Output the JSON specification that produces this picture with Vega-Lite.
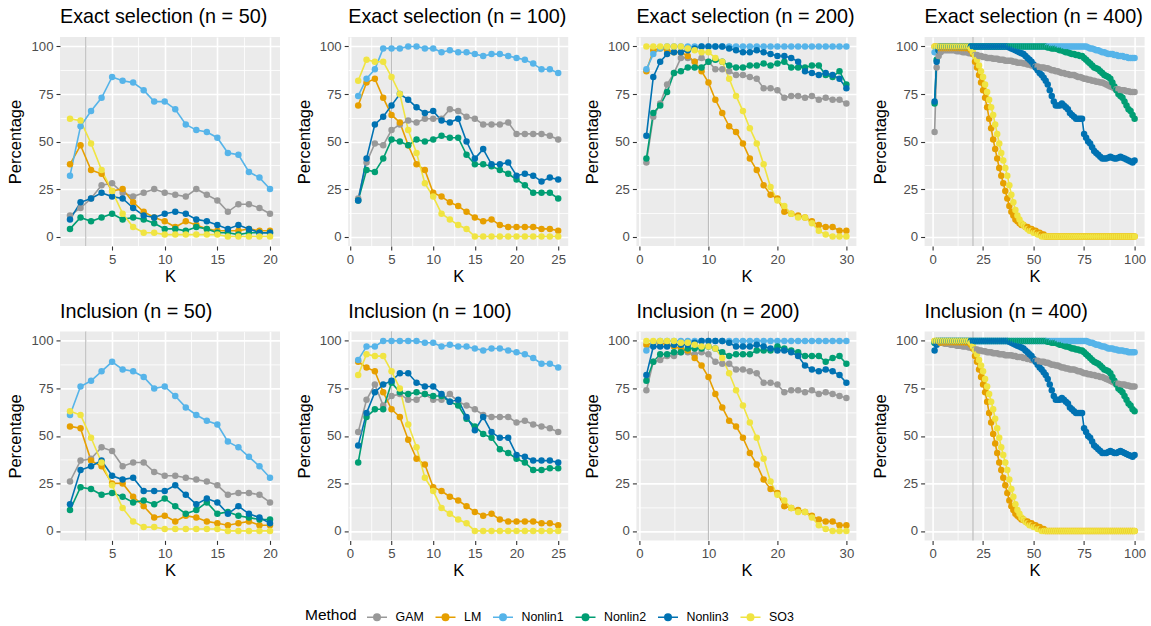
{
"$schema": "https://vega.github.io/schema/vega-lite/v6.json",
"background": "white",
"padding": {"left": 7, "top": 7, "right": 0, "bottom": 0},
"bounds": "flush",
"columns": 4,
"spacing": {"row": 85.4, "column": 68.2},
"resolve": {"scale": {"x": "independent", "y": "independent", "color": "shared"}},
"datasets": {
"d": [
{"p":"E50","K":1,"GAM":11,"LM":38,"Nonlin1":32,"Nonlin2":4,"Nonlin3":9,"SO3":62},
{"p":"E50","K":2,"GAM":15,"LM":48,"Nonlin1":58,"Nonlin2":10,"Nonlin3":18,"SO3":61},
{"p":"E50","K":3,"GAM":20,"LM":35,"Nonlin1":66,"Nonlin2":8,"Nonlin3":20,"SO3":49},
{"p":"E50","K":4,"GAM":27,"LM":33,"Nonlin1":73,"Nonlin2":10,"Nonlin3":23,"SO3":35},
{"p":"E50","K":5,"GAM":28,"LM":24,"Nonlin1":84,"Nonlin2":12,"Nonlin3":21,"SO3":24},
{"p":"E50","K":6,"GAM":23,"LM":25,"Nonlin1":82,"Nonlin2":9,"Nonlin3":20,"SO3":12},
{"p":"E50","K":7,"GAM":21,"LM":18,"Nonlin1":81,"Nonlin2":10,"Nonlin3":15,"SO3":5},
{"p":"E50","K":8,"GAM":23,"LM":13,"Nonlin1":77,"Nonlin2":9,"Nonlin3":11,"SO3":2},
{"p":"E50","K":9,"GAM":25,"LM":10,"Nonlin1":71,"Nonlin2":7,"Nonlin3":10,"SO3":2},
{"p":"E50","K":10,"GAM":23,"LM":8,"Nonlin1":71,"Nonlin2":4,"Nonlin3":12,"SO3":1},
{"p":"E50","K":11,"GAM":22,"LM":5,"Nonlin1":67,"Nonlin2":4,"Nonlin3":13,"SO3":1},
{"p":"E50","K":12,"GAM":21,"LM":8,"Nonlin1":59,"Nonlin2":3,"Nonlin3":12,"SO3":1},
{"p":"E50","K":13,"GAM":25,"LM":6,"Nonlin1":56,"Nonlin2":5,"Nonlin3":9,"SO3":1},
{"p":"E50","K":14,"GAM":22,"LM":4,"Nonlin1":55,"Nonlin2":4,"Nonlin3":8,"SO3":1},
{"p":"E50","K":15,"GAM":19,"LM":3,"Nonlin1":52,"Nonlin2":2,"Nonlin3":6,"SO3":1},
{"p":"E50","K":16,"GAM":13,"LM":3,"Nonlin1":44,"Nonlin2":2,"Nonlin3":4,"SO3":0},
{"p":"E50","K":17,"GAM":17,"LM":3,"Nonlin1":43,"Nonlin2":1,"Nonlin3":6,"SO3":0},
{"p":"E50","K":18,"GAM":17,"LM":4,"Nonlin1":34,"Nonlin2":2,"Nonlin3":4,"SO3":0},
{"p":"E50","K":19,"GAM":15,"LM":3,"Nonlin1":31,"Nonlin2":2,"Nonlin3":2,"SO3":0},
{"p":"E50","K":20,"GAM":12,"LM":3,"Nonlin1":25,"Nonlin2":2,"Nonlin3":2,"SO3":0},
{"p":"E100","K":1,"GAM":20,"LM":69,"Nonlin1":74,"Nonlin2":19,"Nonlin3":19,"SO3":82},
{"p":"E100","K":2,"GAM":39,"LM":81,"Nonlin1":83,"Nonlin2":35,"Nonlin3":41,"SO3":93},
{"p":"E100","K":3,"GAM":49,"LM":83,"Nonlin1":88,"Nonlin2":34,"Nonlin3":59,"SO3":92},
{"p":"E100","K":4,"GAM":48,"LM":73,"Nonlin1":99,"Nonlin2":41,"Nonlin3":63,"SO3":92},
{"p":"E100","K":5,"GAM":56,"LM":64,"Nonlin1":99,"Nonlin2":51,"Nonlin3":69,"SO3":84},
{"p":"E100","K":6,"GAM":59,"LM":60,"Nonlin1":99,"Nonlin2":50,"Nonlin3":75,"SO3":75},
{"p":"E100","K":7,"GAM":61,"LM":48,"Nonlin1":100,"Nonlin2":48,"Nonlin3":72,"SO3":56},
{"p":"E100","K":8,"GAM":60,"LM":38,"Nonlin1":100,"Nonlin2":51,"Nonlin3":68,"SO3":44},
{"p":"E100","K":9,"GAM":62,"LM":35,"Nonlin1":99,"Nonlin2":50,"Nonlin3":65,"SO3":28},
{"p":"E100","K":10,"GAM":62,"LM":23,"Nonlin1":99,"Nonlin2":51,"Nonlin3":66,"SO3":21},
{"p":"E100","K":11,"GAM":62,"LM":21,"Nonlin1":97,"Nonlin2":53,"Nonlin3":61,"SO3":12},
{"p":"E100","K":12,"GAM":67,"LM":18,"Nonlin1":98,"Nonlin2":52,"Nonlin3":60,"SO3":9},
{"p":"E100","K":13,"GAM":66,"LM":16,"Nonlin1":97,"Nonlin2":52,"Nonlin3":62,"SO3":6},
{"p":"E100","K":14,"GAM":63,"LM":13,"Nonlin1":97,"Nonlin2":43,"Nonlin3":50,"SO3":4},
{"p":"E100","K":15,"GAM":62,"LM":10,"Nonlin1":96,"Nonlin2":38,"Nonlin3":41,"SO3":0},
{"p":"E100","K":16,"GAM":59,"LM":8,"Nonlin1":95,"Nonlin2":38,"Nonlin3":46,"SO3":0},
{"p":"E100","K":17,"GAM":59,"LM":9,"Nonlin1":96,"Nonlin2":37,"Nonlin3":38,"SO3":0},
{"p":"E100","K":18,"GAM":59,"LM":6,"Nonlin1":96,"Nonlin2":35,"Nonlin3":38,"SO3":0},
{"p":"E100","K":19,"GAM":60,"LM":5,"Nonlin1":95,"Nonlin2":33,"Nonlin3":39,"SO3":0},
{"p":"E100","K":20,"GAM":54,"LM":5,"Nonlin1":94,"Nonlin2":30,"Nonlin3":32,"SO3":0},
{"p":"E100","K":21,"GAM":54,"LM":5,"Nonlin1":93,"Nonlin2":27,"Nonlin3":33,"SO3":0},
{"p":"E100","K":22,"GAM":54,"LM":5,"Nonlin1":91,"Nonlin2":23,"Nonlin3":32,"SO3":0},
{"p":"E100","K":23,"GAM":54,"LM":4,"Nonlin1":88,"Nonlin2":23,"Nonlin3":29,"SO3":0},
{"p":"E100","K":24,"GAM":53,"LM":4,"Nonlin1":88,"Nonlin2":23,"Nonlin3":31,"SO3":0},
{"p":"E100","K":25,"GAM":51,"LM":3,"Nonlin1":86,"Nonlin2":20,"Nonlin3":30,"SO3":0},
{"p":"E200","K":1,"GAM":39,"LM":87,"Nonlin1":88,"Nonlin2":41,"Nonlin3":53,"SO3":100},
{"p":"E200","K":2,"GAM":63,"LM":98,"Nonlin1":96,"Nonlin2":65,"Nonlin3":84,"SO3":100},
{"p":"E200","K":3,"GAM":70,"LM":99,"Nonlin1":99,"Nonlin2":69,"Nonlin3":92,"SO3":100},
{"p":"E200","K":4,"GAM":80,"LM":98,"Nonlin1":100,"Nonlin2":76,"Nonlin3":96,"SO3":100},
{"p":"E200","K":5,"GAM":86,"LM":97,"Nonlin1":100,"Nonlin2":86,"Nonlin3":97,"SO3":100},
{"p":"E200","K":6,"GAM":94,"LM":97,"Nonlin1":100,"Nonlin2":87,"Nonlin3":97,"SO3":100},
{"p":"E200","K":7,"GAM":94,"LM":95,"Nonlin1":100,"Nonlin2":89,"Nonlin3":98,"SO3":99},
{"p":"E200","K":8,"GAM":92,"LM":92,"Nonlin1":100,"Nonlin2":89,"Nonlin3":99,"SO3":98},
{"p":"E200","K":9,"GAM":94,"LM":87,"Nonlin1":100,"Nonlin2":89,"Nonlin3":100,"SO3":97},
{"p":"E200","K":10,"GAM":92,"LM":81,"Nonlin1":100,"Nonlin2":92,"Nonlin3":100,"SO3":97},
{"p":"E200","K":11,"GAM":88,"LM":72,"Nonlin1":100,"Nonlin2":93,"Nonlin3":100,"SO3":94},
{"p":"E200","K":12,"GAM":88,"LM":65,"Nonlin1":100,"Nonlin2":92,"Nonlin3":100,"SO3":92},
{"p":"E200","K":13,"GAM":87,"LM":58,"Nonlin1":100,"Nonlin2":90,"Nonlin3":99,"SO3":83},
{"p":"E200","K":14,"GAM":85,"LM":55,"Nonlin1":100,"Nonlin2":89,"Nonlin3":98,"SO3":74},
{"p":"E200","K":15,"GAM":85,"LM":49,"Nonlin1":100,"Nonlin2":89,"Nonlin3":97,"SO3":66},
{"p":"E200","K":16,"GAM":84,"LM":41,"Nonlin1":100,"Nonlin2":90,"Nonlin3":97,"SO3":57},
{"p":"E200","K":17,"GAM":83,"LM":35,"Nonlin1":100,"Nonlin2":90,"Nonlin3":98,"SO3":49},
{"p":"E200","K":18,"GAM":78,"LM":27,"Nonlin1":100,"Nonlin2":91,"Nonlin3":97,"SO3":38},
{"p":"E200","K":19,"GAM":78,"LM":22,"Nonlin1":100,"Nonlin2":90,"Nonlin3":96,"SO3":26},
{"p":"E200","K":20,"GAM":77,"LM":20,"Nonlin1":100,"Nonlin2":91,"Nonlin3":95,"SO3":19},
{"p":"E200","K":21,"GAM":73,"LM":13,"Nonlin1":100,"Nonlin2":92,"Nonlin3":95,"SO3":16},
{"p":"E200","K":22,"GAM":74,"LM":12,"Nonlin1":100,"Nonlin2":89,"Nonlin3":94,"SO3":12},
{"p":"E200","K":23,"GAM":74,"LM":11,"Nonlin1":100,"Nonlin2":89,"Nonlin3":92,"SO3":10},
{"p":"E200","K":24,"GAM":73,"LM":10,"Nonlin1":100,"Nonlin2":89,"Nonlin3":87,"SO3":10},
{"p":"E200","K":25,"GAM":74,"LM":8,"Nonlin1":100,"Nonlin2":90,"Nonlin3":86,"SO3":7},
{"p":"E200","K":26,"GAM":72,"LM":6,"Nonlin1":100,"Nonlin2":90,"Nonlin3":85,"SO3":3},
{"p":"E200","K":27,"GAM":73,"LM":5,"Nonlin1":100,"Nonlin2":85,"Nonlin3":86,"SO3":1},
{"p":"E200","K":28,"GAM":72,"LM":5,"Nonlin1":100,"Nonlin2":84,"Nonlin3":85,"SO3":0},
{"p":"E200","K":29,"GAM":72,"LM":3,"Nonlin1":100,"Nonlin2":87,"Nonlin3":83,"SO3":0},
{"p":"E200","K":30,"GAM":70,"LM":3,"Nonlin1":100,"Nonlin2":80,"Nonlin3":78,"SO3":0},
{"p":"E400","K":1,"GAM":55,"LM":100,"Nonlin1":97,"Nonlin2":70,"Nonlin3":71,"SO3":100},
{"p":"E400","K":2,"GAM":89,"LM":100,"Nonlin1":99,"Nonlin2":93,"Nonlin3":92,"SO3":100},
{"p":"E400","K":3,"GAM":95,"LM":100,"Nonlin1":100,"Nonlin2":98,"Nonlin3":98,"SO3":100},
{"p":"E400","K":4,"GAM":97,"LM":99,"Nonlin1":100,"Nonlin2":100,"Nonlin3":100,"SO3":100},
{"p":"E400","K":5,"GAM":98,"LM":99,"Nonlin1":100,"Nonlin2":100,"Nonlin3":100,"SO3":100},
{"p":"E400","K":6,"GAM":98,"LM":99,"Nonlin1":100,"Nonlin2":100,"Nonlin3":100,"SO3":100},
{"p":"E400","K":7,"GAM":98,"LM":99,"Nonlin1":100,"Nonlin2":100,"Nonlin3":100,"SO3":100},
{"p":"E400","K":8,"GAM":98,"LM":99,"Nonlin1":100,"Nonlin2":100,"Nonlin3":100,"SO3":100},
{"p":"E400","K":9,"GAM":98,"LM":99,"Nonlin1":100,"Nonlin2":100,"Nonlin3":100,"SO3":100},
{"p":"E400","K":10,"GAM":98,"LM":99,"Nonlin1":100,"Nonlin2":100,"Nonlin3":100,"SO3":100},
{"p":"E400","K":11,"GAM":98,"LM":99,"Nonlin1":100,"Nonlin2":100,"Nonlin3":100,"SO3":100},
{"p":"E400","K":12,"GAM":97.5,"LM":99,"Nonlin1":100,"Nonlin2":100,"Nonlin3":100,"SO3":100},
{"p":"E400","K":13,"GAM":97.5,"LM":99,"Nonlin1":100,"Nonlin2":100,"Nonlin3":100,"SO3":100},
{"p":"E400","K":14,"GAM":97.5,"LM":99,"Nonlin1":100,"Nonlin2":100,"Nonlin3":100,"SO3":100},
{"p":"E400","K":15,"GAM":97,"LM":99,"Nonlin1":100,"Nonlin2":100,"Nonlin3":100,"SO3":100},
{"p":"E400","K":16,"GAM":97,"LM":99,"Nonlin1":100,"Nonlin2":100,"Nonlin3":100,"SO3":100},
{"p":"E400","K":17,"GAM":97,"LM":99,"Nonlin1":100,"Nonlin2":100,"Nonlin3":100,"SO3":100},
{"p":"E400","K":18,"GAM":96.5,"LM":99,"Nonlin1":100,"Nonlin2":100,"Nonlin3":100,"SO3":100},
{"p":"E400","K":19,"GAM":96.5,"LM":98,"Nonlin1":100,"Nonlin2":100,"Nonlin3":100,"SO3":99},
{"p":"E400","K":20,"GAM":96,"LM":96,"Nonlin1":100,"Nonlin2":100,"Nonlin3":100,"SO3":97},
{"p":"E400","K":21,"GAM":95.5,"LM":92,"Nonlin1":100,"Nonlin2":100,"Nonlin3":100,"SO3":95},
{"p":"E400","K":22,"GAM":95.5,"LM":89,"Nonlin1":100,"Nonlin2":100,"Nonlin3":100,"SO3":93},
{"p":"E400","K":23,"GAM":95,"LM":85,"Nonlin1":100,"Nonlin2":100,"Nonlin3":100,"SO3":90},
{"p":"E400","K":24,"GAM":95,"LM":81,"Nonlin1":100,"Nonlin2":100,"Nonlin3":100,"SO3":87},
{"p":"E400","K":25,"GAM":94.5,"LM":77,"Nonlin1":100,"Nonlin2":100,"Nonlin3":100,"SO3":84},
{"p":"E400","K":26,"GAM":94.5,"LM":73,"Nonlin1":100,"Nonlin2":100,"Nonlin3":100,"SO3":80},
{"p":"E400","K":27,"GAM":94,"LM":68,"Nonlin1":100,"Nonlin2":100,"Nonlin3":100,"SO3":76},
{"p":"E400","K":28,"GAM":94,"LM":62,"Nonlin1":100,"Nonlin2":100,"Nonlin3":100,"SO3":72},
{"p":"E400","K":29,"GAM":94,"LM":57,"Nonlin1":100,"Nonlin2":100,"Nonlin3":100,"SO3":68},
{"p":"E400","K":30,"GAM":93.5,"LM":51,"Nonlin1":100,"Nonlin2":100,"Nonlin3":100,"SO3":64},
{"p":"E400","K":31,"GAM":93.5,"LM":46,"Nonlin1":100,"Nonlin2":100,"Nonlin3":100,"SO3":59},
{"p":"E400","K":32,"GAM":93.5,"LM":41,"Nonlin1":100,"Nonlin2":100,"Nonlin3":100,"SO3":54},
{"p":"E400","K":33,"GAM":93,"LM":36,"Nonlin1":100,"Nonlin2":100,"Nonlin3":100,"SO3":49},
{"p":"E400","K":34,"GAM":93,"LM":32,"Nonlin1":100,"Nonlin2":100,"Nonlin3":100,"SO3":44},
{"p":"E400","K":35,"GAM":93,"LM":28,"Nonlin1":100,"Nonlin2":100,"Nonlin3":100,"SO3":40},
{"p":"E400","K":36,"GAM":92.5,"LM":24,"Nonlin1":100,"Nonlin2":100,"Nonlin3":100,"SO3":36},
{"p":"E400","K":37,"GAM":92.5,"LM":20,"Nonlin1":100,"Nonlin2":100,"Nonlin3":100,"SO3":32},
{"p":"E400","K":38,"GAM":92.5,"LM":16,"Nonlin1":100,"Nonlin2":100,"Nonlin3":99.5,"SO3":27},
{"p":"E400","K":39,"GAM":92.5,"LM":13,"Nonlin1":100,"Nonlin2":100,"Nonlin3":99,"SO3":22},
{"p":"E400","K":40,"GAM":92,"LM":11,"Nonlin1":100,"Nonlin2":100,"Nonlin3":98.5,"SO3":18},
{"p":"E400","K":41,"GAM":92,"LM":9,"Nonlin1":100,"Nonlin2":100,"Nonlin3":98,"SO3":14},
{"p":"E400","K":42,"GAM":91.5,"LM":8,"Nonlin1":100,"Nonlin2":100,"Nonlin3":97.5,"SO3":11},
{"p":"E400","K":43,"GAM":91.5,"LM":7,"Nonlin1":100,"Nonlin2":100,"Nonlin3":97,"SO3":9},
{"p":"E400","K":44,"GAM":91.5,"LM":6,"Nonlin1":100,"Nonlin2":100,"Nonlin3":96.5,"SO3":7},
{"p":"E400","K":45,"GAM":91,"LM":6,"Nonlin1":100,"Nonlin2":100,"Nonlin3":96,"SO3":6},
{"p":"E400","K":46,"GAM":91,"LM":5,"Nonlin1":100,"Nonlin2":100,"Nonlin3":95,"SO3":5},
{"p":"E400","K":47,"GAM":90.5,"LM":5,"Nonlin1":100,"Nonlin2":100,"Nonlin3":94,"SO3":4},
{"p":"E400","K":48,"GAM":90.5,"LM":4,"Nonlin1":100,"Nonlin2":100,"Nonlin3":93,"SO3":3},
{"p":"E400","K":49,"GAM":90,"LM":4,"Nonlin1":100,"Nonlin2":100,"Nonlin3":92,"SO3":3},
{"p":"E400","K":50,"GAM":90,"LM":3,"Nonlin1":100,"Nonlin2":100,"Nonlin3":90.5,"SO3":2},
{"p":"E400","K":51,"GAM":89.5,"LM":3,"Nonlin1":100,"Nonlin2":100,"Nonlin3":89,"SO3":2},
{"p":"E400","K":52,"GAM":89.5,"LM":2,"Nonlin1":100,"Nonlin2":100,"Nonlin3":87.5,"SO3":1},
{"p":"E400","K":53,"GAM":89,"LM":2,"Nonlin1":100,"Nonlin2":100,"Nonlin3":86,"SO3":1},
{"p":"E400","K":54,"GAM":89,"LM":1,"Nonlin1":100,"Nonlin2":100,"Nonlin3":85,"SO3":0},
{"p":"E400","K":55,"GAM":89,"LM":1,"Nonlin1":100,"Nonlin2":100,"Nonlin3":83.5,"SO3":0},
{"p":"E400","K":56,"GAM":88.5,"LM":0,"Nonlin1":100,"Nonlin2":100,"Nonlin3":82,"SO3":0},
{"p":"E400","K":57,"GAM":88.5,"LM":0,"Nonlin1":100,"Nonlin2":99.5,"Nonlin3":80,"SO3":0},
{"p":"E400","K":58,"GAM":88,"LM":0,"Nonlin1":100,"Nonlin2":99.5,"Nonlin3":77,"SO3":0},
{"p":"E400","K":59,"GAM":87.5,"LM":0,"Nonlin1":100,"Nonlin2":99,"Nonlin3":74,"SO3":0},
{"p":"E400","K":60,"GAM":87.5,"LM":0,"Nonlin1":100,"Nonlin2":99,"Nonlin3":71,"SO3":0},
{"p":"E400","K":61,"GAM":87,"LM":0,"Nonlin1":100,"Nonlin2":99,"Nonlin3":69,"SO3":0},
{"p":"E400","K":62,"GAM":87,"LM":0,"Nonlin1":100,"Nonlin2":98.5,"Nonlin3":69,"SO3":0},
{"p":"E400","K":63,"GAM":86.5,"LM":0,"Nonlin1":100,"Nonlin2":98,"Nonlin3":69,"SO3":0},
{"p":"E400","K":64,"GAM":86,"LM":0,"Nonlin1":100,"Nonlin2":98,"Nonlin3":70,"SO3":0},
{"p":"E400","K":65,"GAM":86,"LM":0,"Nonlin1":100,"Nonlin2":97.5,"Nonlin3":69,"SO3":0},
{"p":"E400","K":66,"GAM":85.5,"LM":0,"Nonlin1":100,"Nonlin2":97,"Nonlin3":68,"SO3":0},
{"p":"E400","K":67,"GAM":85.5,"LM":0,"Nonlin1":100,"Nonlin2":97,"Nonlin3":67,"SO3":0},
{"p":"E400","K":68,"GAM":85,"LM":0,"Nonlin1":100,"Nonlin2":96.5,"Nonlin3":65,"SO3":0},
{"p":"E400","K":69,"GAM":85,"LM":0,"Nonlin1":100,"Nonlin2":96,"Nonlin3":64,"SO3":0},
{"p":"E400","K":70,"GAM":85,"LM":0,"Nonlin1":100,"Nonlin2":96,"Nonlin3":63,"SO3":0},
{"p":"E400","K":71,"GAM":84.5,"LM":0,"Nonlin1":100,"Nonlin2":95.5,"Nonlin3":62,"SO3":0},
{"p":"E400","K":72,"GAM":84,"LM":0,"Nonlin1":100,"Nonlin2":95.5,"Nonlin3":62,"SO3":0},
{"p":"E400","K":73,"GAM":84,"LM":0,"Nonlin1":100,"Nonlin2":95,"Nonlin3":62,"SO3":0},
{"p":"E400","K":74,"GAM":83.5,"LM":0,"Nonlin1":100,"Nonlin2":95,"Nonlin3":62,"SO3":0},
{"p":"E400","K":75,"GAM":83,"LM":0,"Nonlin1":100,"Nonlin2":94,"Nonlin3":54,"SO3":0},
{"p":"E400","K":76,"GAM":83,"LM":0,"Nonlin1":100,"Nonlin2":93,"Nonlin3":52,"SO3":0},
{"p":"E400","K":77,"GAM":82.5,"LM":0,"Nonlin1":99.5,"Nonlin2":92,"Nonlin3":50,"SO3":0},
{"p":"E400","K":78,"GAM":82.5,"LM":0,"Nonlin1":99,"Nonlin2":91,"Nonlin3":49,"SO3":0},
{"p":"E400","K":79,"GAM":82,"LM":0,"Nonlin1":99,"Nonlin2":90,"Nonlin3":47,"SO3":0},
{"p":"E400","K":80,"GAM":82,"LM":0,"Nonlin1":98.5,"Nonlin2":89,"Nonlin3":45,"SO3":0},
{"p":"E400","K":81,"GAM":81.5,"LM":0,"Nonlin1":98,"Nonlin2":88.5,"Nonlin3":44,"SO3":0},
{"p":"E400","K":82,"GAM":81.5,"LM":0,"Nonlin1":98,"Nonlin2":88,"Nonlin3":43,"SO3":0},
{"p":"E400","K":83,"GAM":81,"LM":0,"Nonlin1":97.5,"Nonlin2":87,"Nonlin3":42,"SO3":0},
{"p":"E400","K":84,"GAM":81,"LM":0,"Nonlin1":97,"Nonlin2":86,"Nonlin3":41,"SO3":0},
{"p":"E400","K":85,"GAM":80.5,"LM":0,"Nonlin1":97,"Nonlin2":85,"Nonlin3":41,"SO3":0},
{"p":"E400","K":86,"GAM":80,"LM":0,"Nonlin1":96.5,"Nonlin2":84.5,"Nonlin3":41,"SO3":0},
{"p":"E400","K":87,"GAM":79.5,"LM":0,"Nonlin1":96,"Nonlin2":84,"Nonlin3":41.5,"SO3":0},
{"p":"E400","K":88,"GAM":79,"LM":0,"Nonlin1":96,"Nonlin2":83,"Nonlin3":42,"SO3":0},
{"p":"E400","K":89,"GAM":78.5,"LM":0,"Nonlin1":96,"Nonlin2":81,"Nonlin3":41.5,"SO3":0},
{"p":"E400","K":90,"GAM":78,"LM":0,"Nonlin1":95.5,"Nonlin2":79,"Nonlin3":41,"SO3":0},
{"p":"E400","K":91,"GAM":77.5,"LM":0,"Nonlin1":95.5,"Nonlin2":77,"Nonlin3":41,"SO3":0},
{"p":"E400","K":92,"GAM":77.5,"LM":0,"Nonlin1":95,"Nonlin2":75,"Nonlin3":41.5,"SO3":0},
{"p":"E400","K":93,"GAM":77,"LM":0,"Nonlin1":95,"Nonlin2":74,"Nonlin3":42,"SO3":0},
{"p":"E400","K":94,"GAM":77,"LM":0,"Nonlin1":95,"Nonlin2":73,"Nonlin3":41.5,"SO3":0},
{"p":"E400","K":95,"GAM":77,"LM":0,"Nonlin1":94.5,"Nonlin2":71,"Nonlin3":41,"SO3":0},
{"p":"E400","K":96,"GAM":76.5,"LM":0,"Nonlin1":94.5,"Nonlin2":69,"Nonlin3":40.5,"SO3":0},
{"p":"E400","K":97,"GAM":76.5,"LM":0,"Nonlin1":94,"Nonlin2":67,"Nonlin3":40,"SO3":0},
{"p":"E400","K":98,"GAM":76,"LM":0,"Nonlin1":94,"Nonlin2":66,"Nonlin3":39.5,"SO3":0},
{"p":"E400","K":99,"GAM":76,"LM":0,"Nonlin1":94,"Nonlin2":64,"Nonlin3":39,"SO3":0},
{"p":"E400","K":100,"GAM":76,"LM":0,"Nonlin1":94,"Nonlin2":62,"Nonlin3":40,"SO3":0},
{"p":"I50","K":1,"GAM":26,"LM":55,"Nonlin1":61,"Nonlin2":11,"Nonlin3":14,"SO3":63},
{"p":"I50","K":2,"GAM":37,"LM":54,"Nonlin1":76,"Nonlin2":23,"Nonlin3":32,"SO3":61},
{"p":"I50","K":3,"GAM":38,"LM":37,"Nonlin1":79,"Nonlin2":22,"Nonlin3":34,"SO3":49},
{"p":"I50","K":4,"GAM":44,"LM":34,"Nonlin1":84,"Nonlin2":19,"Nonlin3":37,"SO3":36},
{"p":"I50","K":5,"GAM":42,"LM":25,"Nonlin1":89,"Nonlin2":20,"Nonlin3":29,"SO3":24},
{"p":"I50","K":6,"GAM":34,"LM":25,"Nonlin1":85,"Nonlin2":18,"Nonlin3":27,"SO3":12},
{"p":"I50","K":7,"GAM":36,"LM":18,"Nonlin1":84,"Nonlin2":15,"Nonlin3":28,"SO3":5},
{"p":"I50","K":8,"GAM":36,"LM":13,"Nonlin1":81,"Nonlin2":16,"Nonlin3":21,"SO3":2},
{"p":"I50","K":9,"GAM":31,"LM":7,"Nonlin1":75,"Nonlin2":14,"Nonlin3":21,"SO3":2},
{"p":"I50","K":10,"GAM":29,"LM":8,"Nonlin1":76,"Nonlin2":17,"Nonlin3":21,"SO3":1},
{"p":"I50","K":11,"GAM":29,"LM":5,"Nonlin1":71,"Nonlin2":13,"Nonlin3":24,"SO3":1},
{"p":"I50","K":12,"GAM":28,"LM":8,"Nonlin1":65,"Nonlin2":9,"Nonlin3":19,"SO3":1},
{"p":"I50","K":13,"GAM":27,"LM":7,"Nonlin1":61,"Nonlin2":11,"Nonlin3":14,"SO3":1},
{"p":"I50","K":14,"GAM":26,"LM":5,"Nonlin1":58,"Nonlin2":15,"Nonlin3":17,"SO3":1},
{"p":"I50","K":15,"GAM":24,"LM":4,"Nonlin1":56,"Nonlin2":9,"Nonlin3":15,"SO3":1},
{"p":"I50","K":16,"GAM":19,"LM":3,"Nonlin1":47,"Nonlin2":10,"Nonlin3":9,"SO3":0},
{"p":"I50","K":17,"GAM":20,"LM":4,"Nonlin1":44,"Nonlin2":8,"Nonlin3":13,"SO3":0},
{"p":"I50","K":18,"GAM":20,"LM":5,"Nonlin1":39,"Nonlin2":7,"Nonlin3":9,"SO3":0},
{"p":"I50","K":19,"GAM":19,"LM":3,"Nonlin1":34,"Nonlin2":6,"Nonlin3":7,"SO3":0},
{"p":"I50","K":20,"GAM":15,"LM":3,"Nonlin1":28,"Nonlin2":6,"Nonlin3":4,"SO3":0},
{"p":"I100","K":1,"GAM":52,"LM":89,"Nonlin1":90,"Nonlin2":36,"Nonlin3":45,"SO3":82},
{"p":"I100","K":2,"GAM":69,"LM":86,"Nonlin1":97,"Nonlin2":60,"Nonlin3":62,"SO3":93},
{"p":"I100","K":3,"GAM":77,"LM":84,"Nonlin1":97,"Nonlin2":64,"Nonlin3":73,"SO3":92},
{"p":"I100","K":4,"GAM":66,"LM":73,"Nonlin1":100,"Nonlin2":64,"Nonlin3":77,"SO3":92},
{"p":"I100","K":5,"GAM":71,"LM":64,"Nonlin1":100,"Nonlin2":78,"Nonlin3":79,"SO3":84},
{"p":"I100","K":6,"GAM":72,"LM":60,"Nonlin1":100,"Nonlin2":73,"Nonlin3":83,"SO3":75},
{"p":"I100","K":7,"GAM":69,"LM":48,"Nonlin1":100,"Nonlin2":72,"Nonlin3":83,"SO3":56},
{"p":"I100","K":8,"GAM":69,"LM":38,"Nonlin1":100,"Nonlin2":73,"Nonlin3":78,"SO3":44},
{"p":"I100","K":9,"GAM":72,"LM":35,"Nonlin1":99,"Nonlin2":72,"Nonlin3":76,"SO3":28},
{"p":"I100","K":10,"GAM":69,"LM":23,"Nonlin1":99,"Nonlin2":71,"Nonlin3":76,"SO3":21},
{"p":"I100","K":11,"GAM":69,"LM":21,"Nonlin1":97,"Nonlin2":71,"Nonlin3":72,"SO3":12},
{"p":"I100","K":12,"GAM":72,"LM":18,"Nonlin1":98,"Nonlin2":68,"Nonlin3":68,"SO3":9},
{"p":"I100","K":13,"GAM":68,"LM":16,"Nonlin1":97,"Nonlin2":66,"Nonlin3":69,"SO3":6},
{"p":"I100","K":14,"GAM":66,"LM":13,"Nonlin1":97,"Nonlin2":59,"Nonlin3":60,"SO3":4},
{"p":"I100","K":15,"GAM":64,"LM":10,"Nonlin1":96,"Nonlin2":55,"Nonlin3":53,"SO3":0},
{"p":"I100","K":16,"GAM":61,"LM":8,"Nonlin1":95,"Nonlin2":51,"Nonlin3":60,"SO3":0},
{"p":"I100","K":17,"GAM":60,"LM":9,"Nonlin1":96,"Nonlin2":49,"Nonlin3":52,"SO3":0},
{"p":"I100","K":18,"GAM":60,"LM":6,"Nonlin1":96,"Nonlin2":43,"Nonlin3":49,"SO3":0},
{"p":"I100","K":19,"GAM":60,"LM":5,"Nonlin1":95,"Nonlin2":41,"Nonlin3":49,"SO3":0},
{"p":"I100","K":20,"GAM":57,"LM":5,"Nonlin1":94,"Nonlin2":38,"Nonlin3":40,"SO3":0},
{"p":"I100","K":21,"GAM":58,"LM":5,"Nonlin1":93,"Nonlin2":36,"Nonlin3":39,"SO3":0},
{"p":"I100","K":22,"GAM":56,"LM":5,"Nonlin1":91,"Nonlin2":32,"Nonlin3":37,"SO3":0},
{"p":"I100","K":23,"GAM":55,"LM":4,"Nonlin1":88,"Nonlin2":32,"Nonlin3":37,"SO3":0},
{"p":"I100","K":24,"GAM":54,"LM":4,"Nonlin1":88,"Nonlin2":33,"Nonlin3":37,"SO3":0},
{"p":"I100","K":25,"GAM":52,"LM":3,"Nonlin1":86,"Nonlin2":33,"Nonlin3":36,"SO3":0},
{"p":"I200","K":1,"GAM":74,"LM":98,"Nonlin1":95,"Nonlin2":79,"Nonlin3":82,"SO3":100},
{"p":"I200","K":2,"GAM":89,"LM":99,"Nonlin1":99,"Nonlin2":89,"Nonlin3":97,"SO3":100},
{"p":"I200","K":3,"GAM":90,"LM":99,"Nonlin1":100,"Nonlin2":93,"Nonlin3":97,"SO3":100},
{"p":"I200","K":4,"GAM":92,"LM":98,"Nonlin1":100,"Nonlin2":93,"Nonlin3":97,"SO3":100},
{"p":"I200","K":5,"GAM":92,"LM":97,"Nonlin1":100,"Nonlin2":94,"Nonlin3":98,"SO3":100},
{"p":"I200","K":6,"GAM":94,"LM":96,"Nonlin1":100,"Nonlin2":94,"Nonlin3":98,"SO3":99},
{"p":"I200","K":7,"GAM":94,"LM":95,"Nonlin1":100,"Nonlin2":96,"Nonlin3":98,"SO3":99},
{"p":"I200","K":8,"GAM":93,"LM":91,"Nonlin1":100,"Nonlin2":96,"Nonlin3":99,"SO3":98},
{"p":"I200","K":9,"GAM":94,"LM":87,"Nonlin1":100,"Nonlin2":96,"Nonlin3":100,"SO3":97},
{"p":"I200","K":10,"GAM":93,"LM":81,"Nonlin1":100,"Nonlin2":97,"Nonlin3":100,"SO3":97},
{"p":"I200","K":11,"GAM":89,"LM":72,"Nonlin1":100,"Nonlin2":96,"Nonlin3":100,"SO3":96},
{"p":"I200","K":12,"GAM":88,"LM":65,"Nonlin1":100,"Nonlin2":94,"Nonlin3":100,"SO3":91},
{"p":"I200","K":13,"GAM":88,"LM":58,"Nonlin1":100,"Nonlin2":92,"Nonlin3":99,"SO3":83},
{"p":"I200","K":14,"GAM":85,"LM":55,"Nonlin1":100,"Nonlin2":93,"Nonlin3":97,"SO3":74},
{"p":"I200","K":15,"GAM":85,"LM":49,"Nonlin1":100,"Nonlin2":93,"Nonlin3":97,"SO3":66},
{"p":"I200","K":16,"GAM":84,"LM":41,"Nonlin1":100,"Nonlin2":93,"Nonlin3":97,"SO3":57},
{"p":"I200","K":17,"GAM":83,"LM":35,"Nonlin1":100,"Nonlin2":95,"Nonlin3":98,"SO3":49},
{"p":"I200","K":18,"GAM":78,"LM":27,"Nonlin1":100,"Nonlin2":95,"Nonlin3":97,"SO3":38},
{"p":"I200","K":19,"GAM":78,"LM":22,"Nonlin1":100,"Nonlin2":95,"Nonlin3":96,"SO3":26},
{"p":"I200","K":20,"GAM":77,"LM":20,"Nonlin1":100,"Nonlin2":97,"Nonlin3":95,"SO3":19},
{"p":"I200","K":21,"GAM":73,"LM":13,"Nonlin1":100,"Nonlin2":96,"Nonlin3":95,"SO3":16},
{"p":"I200","K":22,"GAM":74,"LM":12,"Nonlin1":100,"Nonlin2":95,"Nonlin3":94,"SO3":12},
{"p":"I200","K":23,"GAM":74,"LM":11,"Nonlin1":100,"Nonlin2":94,"Nonlin3":92,"SO3":10},
{"p":"I200","K":24,"GAM":73,"LM":10,"Nonlin1":100,"Nonlin2":92,"Nonlin3":87,"SO3":10},
{"p":"I200","K":25,"GAM":74,"LM":8,"Nonlin1":100,"Nonlin2":92,"Nonlin3":85,"SO3":7},
{"p":"I200","K":26,"GAM":72,"LM":6,"Nonlin1":100,"Nonlin2":92,"Nonlin3":84,"SO3":3},
{"p":"I200","K":27,"GAM":73,"LM":5,"Nonlin1":100,"Nonlin2":89,"Nonlin3":85,"SO3":1},
{"p":"I200","K":28,"GAM":72,"LM":5,"Nonlin1":100,"Nonlin2":91,"Nonlin3":84,"SO3":0},
{"p":"I200","K":29,"GAM":71,"LM":3,"Nonlin1":100,"Nonlin2":92,"Nonlin3":82,"SO3":0},
{"p":"I200","K":30,"GAM":70,"LM":3,"Nonlin1":100,"Nonlin2":88,"Nonlin3":78,"SO3":0},
{"p":"I400","K":1,"GAM":99,"LM":100,"Nonlin1":99,"Nonlin2":99,"Nonlin3":95,"SO3":100},
{"p":"I400","K":2,"GAM":99,"LM":100,"Nonlin1":100,"Nonlin2":100,"Nonlin3":98,"SO3":100},
{"p":"I400","K":3,"GAM":99,"LM":100,"Nonlin1":100,"Nonlin2":100,"Nonlin3":99,"SO3":100},
{"p":"I400","K":4,"GAM":99,"LM":99,"Nonlin1":100,"Nonlin2":100,"Nonlin3":100,"SO3":100},
{"p":"I400","K":5,"GAM":99,"LM":99,"Nonlin1":100,"Nonlin2":100,"Nonlin3":100,"SO3":100},
{"p":"I400","K":6,"GAM":98.5,"LM":99,"Nonlin1":100,"Nonlin2":100,"Nonlin3":100,"SO3":100},
{"p":"I400","K":7,"GAM":98.5,"LM":99,"Nonlin1":100,"Nonlin2":100,"Nonlin3":100,"SO3":100},
{"p":"I400","K":8,"GAM":98.5,"LM":99,"Nonlin1":100,"Nonlin2":100,"Nonlin3":100,"SO3":100},
{"p":"I400","K":9,"GAM":98,"LM":99,"Nonlin1":100,"Nonlin2":100,"Nonlin3":100,"SO3":100},
{"p":"I400","K":10,"GAM":98,"LM":99,"Nonlin1":100,"Nonlin2":100,"Nonlin3":100,"SO3":100},
{"p":"I400","K":11,"GAM":98,"LM":99,"Nonlin1":100,"Nonlin2":100,"Nonlin3":100,"SO3":100},
{"p":"I400","K":12,"GAM":97.5,"LM":99,"Nonlin1":100,"Nonlin2":100,"Nonlin3":100,"SO3":100},
{"p":"I400","K":13,"GAM":97.5,"LM":99,"Nonlin1":100,"Nonlin2":100,"Nonlin3":100,"SO3":100},
{"p":"I400","K":14,"GAM":97.5,"LM":99,"Nonlin1":100,"Nonlin2":100,"Nonlin3":100,"SO3":100},
{"p":"I400","K":15,"GAM":97,"LM":99,"Nonlin1":100,"Nonlin2":100,"Nonlin3":100,"SO3":100},
{"p":"I400","K":16,"GAM":97,"LM":99,"Nonlin1":100,"Nonlin2":100,"Nonlin3":100,"SO3":100},
{"p":"I400","K":17,"GAM":97,"LM":99,"Nonlin1":100,"Nonlin2":100,"Nonlin3":100,"SO3":100},
{"p":"I400","K":18,"GAM":96.5,"LM":99,"Nonlin1":100,"Nonlin2":100,"Nonlin3":100,"SO3":100},
{"p":"I400","K":19,"GAM":96.5,"LM":98,"Nonlin1":100,"Nonlin2":100,"Nonlin3":100,"SO3":99},
{"p":"I400","K":20,"GAM":96,"LM":96,"Nonlin1":100,"Nonlin2":100,"Nonlin3":100,"SO3":97},
{"p":"I400","K":21,"GAM":95.5,"LM":92,"Nonlin1":100,"Nonlin2":100,"Nonlin3":100,"SO3":95},
{"p":"I400","K":22,"GAM":95.5,"LM":89,"Nonlin1":100,"Nonlin2":100,"Nonlin3":100,"SO3":93},
{"p":"I400","K":23,"GAM":95,"LM":85,"Nonlin1":100,"Nonlin2":100,"Nonlin3":100,"SO3":90},
{"p":"I400","K":24,"GAM":95,"LM":81,"Nonlin1":100,"Nonlin2":100,"Nonlin3":100,"SO3":87},
{"p":"I400","K":25,"GAM":94.5,"LM":77,"Nonlin1":100,"Nonlin2":100,"Nonlin3":100,"SO3":84},
{"p":"I400","K":26,"GAM":94.5,"LM":73,"Nonlin1":100,"Nonlin2":100,"Nonlin3":100,"SO3":80},
{"p":"I400","K":27,"GAM":94,"LM":68,"Nonlin1":100,"Nonlin2":100,"Nonlin3":100,"SO3":76},
{"p":"I400","K":28,"GAM":94,"LM":62,"Nonlin1":100,"Nonlin2":100,"Nonlin3":100,"SO3":72},
{"p":"I400","K":29,"GAM":94,"LM":57,"Nonlin1":100,"Nonlin2":100,"Nonlin3":100,"SO3":68},
{"p":"I400","K":30,"GAM":93.5,"LM":51,"Nonlin1":100,"Nonlin2":100,"Nonlin3":100,"SO3":64},
{"p":"I400","K":31,"GAM":93.5,"LM":46,"Nonlin1":100,"Nonlin2":100,"Nonlin3":100,"SO3":59},
{"p":"I400","K":32,"GAM":93.5,"LM":41,"Nonlin1":100,"Nonlin2":100,"Nonlin3":100,"SO3":54},
{"p":"I400","K":33,"GAM":93,"LM":36,"Nonlin1":100,"Nonlin2":100,"Nonlin3":100,"SO3":49},
{"p":"I400","K":34,"GAM":93,"LM":32,"Nonlin1":100,"Nonlin2":100,"Nonlin3":100,"SO3":44},
{"p":"I400","K":35,"GAM":93,"LM":28,"Nonlin1":100,"Nonlin2":100,"Nonlin3":100,"SO3":40},
{"p":"I400","K":36,"GAM":92.5,"LM":24,"Nonlin1":100,"Nonlin2":100,"Nonlin3":100,"SO3":36},
{"p":"I400","K":37,"GAM":92.5,"LM":20,"Nonlin1":100,"Nonlin2":100,"Nonlin3":100,"SO3":32},
{"p":"I400","K":38,"GAM":92.5,"LM":16,"Nonlin1":100,"Nonlin2":100,"Nonlin3":99.5,"SO3":27},
{"p":"I400","K":39,"GAM":92.5,"LM":13,"Nonlin1":100,"Nonlin2":100,"Nonlin3":99,"SO3":22},
{"p":"I400","K":40,"GAM":92,"LM":11,"Nonlin1":100,"Nonlin2":100,"Nonlin3":98.5,"SO3":18},
{"p":"I400","K":41,"GAM":92,"LM":9,"Nonlin1":100,"Nonlin2":100,"Nonlin3":98,"SO3":14},
{"p":"I400","K":42,"GAM":91.5,"LM":8,"Nonlin1":100,"Nonlin2":100,"Nonlin3":97.5,"SO3":11},
{"p":"I400","K":43,"GAM":91.5,"LM":7,"Nonlin1":100,"Nonlin2":100,"Nonlin3":97,"SO3":9},
{"p":"I400","K":44,"GAM":91.5,"LM":6,"Nonlin1":100,"Nonlin2":100,"Nonlin3":96.5,"SO3":7},
{"p":"I400","K":45,"GAM":91,"LM":6,"Nonlin1":100,"Nonlin2":100,"Nonlin3":96,"SO3":6},
{"p":"I400","K":46,"GAM":91,"LM":5,"Nonlin1":100,"Nonlin2":100,"Nonlin3":95,"SO3":5},
{"p":"I400","K":47,"GAM":90.5,"LM":5,"Nonlin1":100,"Nonlin2":100,"Nonlin3":94,"SO3":4},
{"p":"I400","K":48,"GAM":90.5,"LM":4,"Nonlin1":100,"Nonlin2":100,"Nonlin3":93,"SO3":3},
{"p":"I400","K":49,"GAM":90,"LM":4,"Nonlin1":100,"Nonlin2":100,"Nonlin3":92,"SO3":3},
{"p":"I400","K":50,"GAM":90,"LM":3,"Nonlin1":100,"Nonlin2":100,"Nonlin3":90.5,"SO3":2},
{"p":"I400","K":51,"GAM":89.5,"LM":3,"Nonlin1":100,"Nonlin2":100,"Nonlin3":89,"SO3":2},
{"p":"I400","K":52,"GAM":89.5,"LM":2,"Nonlin1":100,"Nonlin2":100,"Nonlin3":87.5,"SO3":1},
{"p":"I400","K":53,"GAM":89,"LM":2,"Nonlin1":100,"Nonlin2":100,"Nonlin3":86,"SO3":1},
{"p":"I400","K":54,"GAM":89,"LM":1,"Nonlin1":100,"Nonlin2":100,"Nonlin3":85,"SO3":0},
{"p":"I400","K":55,"GAM":89,"LM":1,"Nonlin1":100,"Nonlin2":100,"Nonlin3":83.5,"SO3":0},
{"p":"I400","K":56,"GAM":88.5,"LM":0,"Nonlin1":100,"Nonlin2":100,"Nonlin3":82,"SO3":0},
{"p":"I400","K":57,"GAM":88.5,"LM":0,"Nonlin1":100,"Nonlin2":99.5,"Nonlin3":80,"SO3":0},
{"p":"I400","K":58,"GAM":88,"LM":0,"Nonlin1":100,"Nonlin2":99.5,"Nonlin3":77,"SO3":0},
{"p":"I400","K":59,"GAM":87.5,"LM":0,"Nonlin1":100,"Nonlin2":99,"Nonlin3":74,"SO3":0},
{"p":"I400","K":60,"GAM":87.5,"LM":0,"Nonlin1":100,"Nonlin2":99,"Nonlin3":71,"SO3":0},
{"p":"I400","K":61,"GAM":87,"LM":0,"Nonlin1":100,"Nonlin2":99,"Nonlin3":69,"SO3":0},
{"p":"I400","K":62,"GAM":87,"LM":0,"Nonlin1":100,"Nonlin2":98.5,"Nonlin3":69,"SO3":0},
{"p":"I400","K":63,"GAM":86.5,"LM":0,"Nonlin1":100,"Nonlin2":98,"Nonlin3":69,"SO3":0},
{"p":"I400","K":64,"GAM":86,"LM":0,"Nonlin1":100,"Nonlin2":98,"Nonlin3":70,"SO3":0},
{"p":"I400","K":65,"GAM":86,"LM":0,"Nonlin1":100,"Nonlin2":97.5,"Nonlin3":69,"SO3":0},
{"p":"I400","K":66,"GAM":85.5,"LM":0,"Nonlin1":100,"Nonlin2":97,"Nonlin3":68,"SO3":0},
{"p":"I400","K":67,"GAM":85.5,"LM":0,"Nonlin1":100,"Nonlin2":97,"Nonlin3":67,"SO3":0},
{"p":"I400","K":68,"GAM":85,"LM":0,"Nonlin1":100,"Nonlin2":96.5,"Nonlin3":65,"SO3":0},
{"p":"I400","K":69,"GAM":85,"LM":0,"Nonlin1":100,"Nonlin2":96,"Nonlin3":64,"SO3":0},
{"p":"I400","K":70,"GAM":85,"LM":0,"Nonlin1":100,"Nonlin2":96,"Nonlin3":63,"SO3":0},
{"p":"I400","K":71,"GAM":84.5,"LM":0,"Nonlin1":100,"Nonlin2":95.5,"Nonlin3":62,"SO3":0},
{"p":"I400","K":72,"GAM":84,"LM":0,"Nonlin1":100,"Nonlin2":95.5,"Nonlin3":62,"SO3":0},
{"p":"I400","K":73,"GAM":84,"LM":0,"Nonlin1":100,"Nonlin2":95,"Nonlin3":62,"SO3":0},
{"p":"I400","K":74,"GAM":83.5,"LM":0,"Nonlin1":100,"Nonlin2":95,"Nonlin3":62,"SO3":0},
{"p":"I400","K":75,"GAM":83,"LM":0,"Nonlin1":100,"Nonlin2":94,"Nonlin3":54,"SO3":0},
{"p":"I400","K":76,"GAM":83,"LM":0,"Nonlin1":100,"Nonlin2":93,"Nonlin3":52,"SO3":0},
{"p":"I400","K":77,"GAM":82.5,"LM":0,"Nonlin1":99.5,"Nonlin2":92,"Nonlin3":50,"SO3":0},
{"p":"I400","K":78,"GAM":82.5,"LM":0,"Nonlin1":99,"Nonlin2":91,"Nonlin3":49,"SO3":0},
{"p":"I400","K":79,"GAM":82,"LM":0,"Nonlin1":99,"Nonlin2":90,"Nonlin3":47,"SO3":0},
{"p":"I400","K":80,"GAM":82,"LM":0,"Nonlin1":98.5,"Nonlin2":89,"Nonlin3":45,"SO3":0},
{"p":"I400","K":81,"GAM":81.5,"LM":0,"Nonlin1":98,"Nonlin2":88.5,"Nonlin3":44,"SO3":0},
{"p":"I400","K":82,"GAM":81.5,"LM":0,"Nonlin1":98,"Nonlin2":88,"Nonlin3":43,"SO3":0},
{"p":"I400","K":83,"GAM":81,"LM":0,"Nonlin1":97.5,"Nonlin2":87,"Nonlin3":42,"SO3":0},
{"p":"I400","K":84,"GAM":81,"LM":0,"Nonlin1":97,"Nonlin2":86,"Nonlin3":41,"SO3":0},
{"p":"I400","K":85,"GAM":80.5,"LM":0,"Nonlin1":97,"Nonlin2":85,"Nonlin3":41,"SO3":0},
{"p":"I400","K":86,"GAM":80,"LM":0,"Nonlin1":96.5,"Nonlin2":84.5,"Nonlin3":41,"SO3":0},
{"p":"I400","K":87,"GAM":79.5,"LM":0,"Nonlin1":96,"Nonlin2":84,"Nonlin3":41.5,"SO3":0},
{"p":"I400","K":88,"GAM":79,"LM":0,"Nonlin1":96,"Nonlin2":83,"Nonlin3":42,"SO3":0},
{"p":"I400","K":89,"GAM":78.5,"LM":0,"Nonlin1":96,"Nonlin2":81,"Nonlin3":41.5,"SO3":0},
{"p":"I400","K":90,"GAM":78,"LM":0,"Nonlin1":95.5,"Nonlin2":79,"Nonlin3":41,"SO3":0},
{"p":"I400","K":91,"GAM":77.5,"LM":0,"Nonlin1":95.5,"Nonlin2":77,"Nonlin3":41,"SO3":0},
{"p":"I400","K":92,"GAM":77.5,"LM":0,"Nonlin1":95,"Nonlin2":75,"Nonlin3":41.5,"SO3":0},
{"p":"I400","K":93,"GAM":77,"LM":0,"Nonlin1":95,"Nonlin2":74,"Nonlin3":42,"SO3":0},
{"p":"I400","K":94,"GAM":77,"LM":0,"Nonlin1":95,"Nonlin2":73,"Nonlin3":41.5,"SO3":0},
{"p":"I400","K":95,"GAM":77,"LM":0,"Nonlin1":94.5,"Nonlin2":71,"Nonlin3":41,"SO3":0},
{"p":"I400","K":96,"GAM":76.5,"LM":0,"Nonlin1":94.5,"Nonlin2":69,"Nonlin3":40.5,"SO3":0},
{"p":"I400","K":97,"GAM":76.5,"LM":0,"Nonlin1":94,"Nonlin2":67,"Nonlin3":40,"SO3":0},
{"p":"I400","K":98,"GAM":76,"LM":0,"Nonlin1":94,"Nonlin2":66,"Nonlin3":39.5,"SO3":0},
{"p":"I400","K":99,"GAM":76,"LM":0,"Nonlin1":94,"Nonlin2":64,"Nonlin3":39,"SO3":0},
{"p":"I400","K":100,"GAM":76,"LM":0,"Nonlin1":94,"Nonlin2":63,"Nonlin3":40,"SO3":0}
]
},
"concat": [
{"title":"Exact selection (n = 50)","width":220,"height":209,"layer":[
 {"data":{"values":[{"K":2.5}]},"mark":"rule","encoding":{"x":{"field":"K","type":"quantitative","scale":{"domain":[0.05,20.95],"nice":false,"zero":false}}}},
 {"data":{"name":"d"},"transform":[{"filter":"datum.p === 'E50'"},{"fold":["GAM","LM","Nonlin1","Nonlin2","Nonlin3","SO3"],"as":["Method","Percentage"]}],
  "encoding":{
   "x":{"field":"K","type":"quantitative","title":"K","scale":{"domain":[0.05,20.95],"nice":false,"zero":false},"axis":{"values":[2.5,5,7.5,10,12.5,15,17.5,20],"labelExpr":"datum.value % 5 === 0 ? '' + datum.value : ''","tickOpacity":{"condition":{"test":"datum.value % 5 !== 0","value":0},"value":1},"gridWidth":{"condition":{"test":"datum.value % 5 !== 0","value":0.8},"value":1.6}}},
   "y":{"field":"Percentage","type":"quantitative","title":"Percentage","scale":{"domain":[-5,105],"nice":false,"zero":false},"axis":{"values":[0,12.5,25,37.5,50,62.5,75,87.5,100],"labelExpr":"datum.value % 25 === 0 ? '' + datum.value : ''","tickOpacity":{"condition":{"test":"datum.value % 25 !== 0","value":0},"value":1},"gridWidth":{"condition":{"test":"datum.value % 25 !== 0","value":0.8},"value":1.6}}},
   "color":{"field":"Method","type":"nominal","scale":{"domain":["GAM","LM","Nonlin1","Nonlin2","Nonlin3","SO3"],"range":["#999999","#E69F00","#56B4E9","#009E73","#0072B2","#F0E442"]},"legend":{"orient":"none","legendX":245,"legendY":569,"direction":"horizontal","title":"Method"}}
  },
  "layer":[{"mark":"line"},{"mark":"point"}]}
]},
{"title":"Exact selection (n = 100)","width":220,"height":209,"layer":[
 {"data":{"values":[{"K":5}]},"mark":"rule","encoding":{"x":{"field":"K","type":"quantitative","scale":{"domain":[-0.2,26.2],"nice":false,"zero":false}}}},
 {"data":{"name":"d"},"transform":[{"filter":"datum.p === 'E100'"},{"fold":["GAM","LM","Nonlin1","Nonlin2","Nonlin3","SO3"],"as":["Method","Percentage"]}],
  "encoding":{
   "x":{"field":"K","type":"quantitative","title":"K","scale":{"domain":[-0.2,26.2],"nice":false,"zero":false},"axis":{"values":[0,2.5,5,7.5,10,12.5,15,17.5,20,22.5,25],"labelExpr":"datum.value % 5 === 0 ? '' + datum.value : ''","tickOpacity":{"condition":{"test":"datum.value % 5 !== 0","value":0},"value":1},"gridWidth":{"condition":{"test":"datum.value % 5 !== 0","value":0.8},"value":1.6}}},
   "y":{"field":"Percentage","type":"quantitative","title":"Percentage","scale":{"domain":[-5,105],"nice":false,"zero":false},"axis":{"values":[0,12.5,25,37.5,50,62.5,75,87.5,100],"labelExpr":"datum.value % 25 === 0 ? '' + datum.value : ''","tickOpacity":{"condition":{"test":"datum.value % 25 !== 0","value":0},"value":1},"gridWidth":{"condition":{"test":"datum.value % 25 !== 0","value":0.8},"value":1.6}}},
   "color":{"field":"Method","type":"nominal","scale":{"domain":["GAM","LM","Nonlin1","Nonlin2","Nonlin3","SO3"],"range":["#999999","#E69F00","#56B4E9","#009E73","#0072B2","#F0E442"]},"legend":{"orient":"none","legendX":245,"legendY":569,"direction":"horizontal","title":"Method"}}
  },
  "layer":[{"mark":"line"},{"mark":"point"}]}
]},
{"title":"Exact selection (n = 200)","width":220,"height":209,"layer":[
 {"data":{"values":[{"K":10}]},"mark":"rule","encoding":{"x":{"field":"K","type":"quantitative","scale":{"domain":[-0.45,31.45],"nice":false,"zero":false}}}},
 {"data":{"name":"d"},"transform":[{"filter":"datum.p === 'E200'"},{"fold":["GAM","LM","Nonlin1","Nonlin2","Nonlin3","SO3"],"as":["Method","Percentage"]}],
  "encoding":{
   "x":{"field":"K","type":"quantitative","title":"K","scale":{"domain":[-0.45,31.45],"nice":false,"zero":false},"axis":{"values":[0,5,10,15,20,25,30],"labelExpr":"datum.value % 10 === 0 ? '' + datum.value : ''","tickOpacity":{"condition":{"test":"datum.value % 10 !== 0","value":0},"value":1},"gridWidth":{"condition":{"test":"datum.value % 10 !== 0","value":0.8},"value":1.6}}},
   "y":{"field":"Percentage","type":"quantitative","title":"Percentage","scale":{"domain":[-5,105],"nice":false,"zero":false},"axis":{"values":[0,12.5,25,37.5,50,62.5,75,87.5,100],"labelExpr":"datum.value % 25 === 0 ? '' + datum.value : ''","tickOpacity":{"condition":{"test":"datum.value % 25 !== 0","value":0},"value":1},"gridWidth":{"condition":{"test":"datum.value % 25 !== 0","value":0.8},"value":1.6}}},
   "color":{"field":"Method","type":"nominal","scale":{"domain":["GAM","LM","Nonlin1","Nonlin2","Nonlin3","SO3"],"range":["#999999","#E69F00","#56B4E9","#009E73","#0072B2","#F0E442"]},"legend":{"orient":"none","legendX":245,"legendY":569,"direction":"horizontal","title":"Method"}}
  },
  "layer":[{"mark":"line"},{"mark":"point"}]}
]},
{"title":"Exact selection (n = 400)","width":220,"height":209,"layer":[
 {"data":{"values":[{"K":20}]},"mark":"rule","encoding":{"x":{"field":"K","type":"quantitative","scale":{"domain":[-3.95,104.95],"nice":false,"zero":false}}}},
 {"data":{"name":"d"},"transform":[{"filter":"datum.p === 'E400'"},{"fold":["GAM","LM","Nonlin1","Nonlin2","Nonlin3","SO3"],"as":["Method","Percentage"]}],
  "encoding":{
   "x":{"field":"K","type":"quantitative","title":"K","scale":{"domain":[-3.95,104.95],"nice":false,"zero":false},"axis":{"values":[0,12.5,25,37.5,50,62.5,75,87.5,100],"labelExpr":"datum.value % 25 === 0 ? '' + datum.value : ''","tickOpacity":{"condition":{"test":"datum.value % 25 !== 0","value":0},"value":1},"gridWidth":{"condition":{"test":"datum.value % 25 !== 0","value":0.8},"value":1.6}}},
   "y":{"field":"Percentage","type":"quantitative","title":"Percentage","scale":{"domain":[-5,105],"nice":false,"zero":false},"axis":{"values":[0,12.5,25,37.5,50,62.5,75,87.5,100],"labelExpr":"datum.value % 25 === 0 ? '' + datum.value : ''","tickOpacity":{"condition":{"test":"datum.value % 25 !== 0","value":0},"value":1},"gridWidth":{"condition":{"test":"datum.value % 25 !== 0","value":0.8},"value":1.6}}},
   "color":{"field":"Method","type":"nominal","scale":{"domain":["GAM","LM","Nonlin1","Nonlin2","Nonlin3","SO3"],"range":["#999999","#E69F00","#56B4E9","#009E73","#0072B2","#F0E442"]},"legend":{"orient":"none","legendX":245,"legendY":569,"direction":"horizontal","title":"Method"}}
  },
  "layer":[{"mark":"line"},{"mark":"point"}]}
]},
{"title":"Inclusion (n = 50)","width":220,"height":209,"layer":[
 {"data":{"values":[{"K":2.5}]},"mark":"rule","encoding":{"x":{"field":"K","type":"quantitative","scale":{"domain":[0.05,20.95],"nice":false,"zero":false}}}},
 {"data":{"name":"d"},"transform":[{"filter":"datum.p === 'I50'"},{"fold":["GAM","LM","Nonlin1","Nonlin2","Nonlin3","SO3"],"as":["Method","Percentage"]}],
  "encoding":{
   "x":{"field":"K","type":"quantitative","title":"K","scale":{"domain":[0.05,20.95],"nice":false,"zero":false},"axis":{"values":[2.5,5,7.5,10,12.5,15,17.5,20],"labelExpr":"datum.value % 5 === 0 ? '' + datum.value : ''","tickOpacity":{"condition":{"test":"datum.value % 5 !== 0","value":0},"value":1},"gridWidth":{"condition":{"test":"datum.value % 5 !== 0","value":0.8},"value":1.6}}},
   "y":{"field":"Percentage","type":"quantitative","title":"Percentage","scale":{"domain":[-5,105],"nice":false,"zero":false},"axis":{"values":[0,12.5,25,37.5,50,62.5,75,87.5,100],"labelExpr":"datum.value % 25 === 0 ? '' + datum.value : ''","tickOpacity":{"condition":{"test":"datum.value % 25 !== 0","value":0},"value":1},"gridWidth":{"condition":{"test":"datum.value % 25 !== 0","value":0.8},"value":1.6}}},
   "color":{"field":"Method","type":"nominal","scale":{"domain":["GAM","LM","Nonlin1","Nonlin2","Nonlin3","SO3"],"range":["#999999","#E69F00","#56B4E9","#009E73","#0072B2","#F0E442"]},"legend":{"orient":"none","legendX":245,"legendY":569,"direction":"horizontal","title":"Method"}}
  },
  "layer":[{"mark":"line"},{"mark":"point"}]}
]},
{"title":"Inclusion (n = 100)","width":220,"height":209,"layer":[
 {"data":{"values":[{"K":5}]},"mark":"rule","encoding":{"x":{"field":"K","type":"quantitative","scale":{"domain":[-0.2,26.2],"nice":false,"zero":false}}}},
 {"data":{"name":"d"},"transform":[{"filter":"datum.p === 'I100'"},{"fold":["GAM","LM","Nonlin1","Nonlin2","Nonlin3","SO3"],"as":["Method","Percentage"]}],
  "encoding":{
   "x":{"field":"K","type":"quantitative","title":"K","scale":{"domain":[-0.2,26.2],"nice":false,"zero":false},"axis":{"values":[0,2.5,5,7.5,10,12.5,15,17.5,20,22.5,25],"labelExpr":"datum.value % 5 === 0 ? '' + datum.value : ''","tickOpacity":{"condition":{"test":"datum.value % 5 !== 0","value":0},"value":1},"gridWidth":{"condition":{"test":"datum.value % 5 !== 0","value":0.8},"value":1.6}}},
   "y":{"field":"Percentage","type":"quantitative","title":"Percentage","scale":{"domain":[-5,105],"nice":false,"zero":false},"axis":{"values":[0,12.5,25,37.5,50,62.5,75,87.5,100],"labelExpr":"datum.value % 25 === 0 ? '' + datum.value : ''","tickOpacity":{"condition":{"test":"datum.value % 25 !== 0","value":0},"value":1},"gridWidth":{"condition":{"test":"datum.value % 25 !== 0","value":0.8},"value":1.6}}},
   "color":{"field":"Method","type":"nominal","scale":{"domain":["GAM","LM","Nonlin1","Nonlin2","Nonlin3","SO3"],"range":["#999999","#E69F00","#56B4E9","#009E73","#0072B2","#F0E442"]},"legend":{"orient":"none","legendX":245,"legendY":569,"direction":"horizontal","title":"Method"}}
  },
  "layer":[{"mark":"line"},{"mark":"point"}]}
]},
{"title":"Inclusion (n = 200)","width":220,"height":209,"layer":[
 {"data":{"values":[{"K":10}]},"mark":"rule","encoding":{"x":{"field":"K","type":"quantitative","scale":{"domain":[-0.45,31.45],"nice":false,"zero":false}}}},
 {"data":{"name":"d"},"transform":[{"filter":"datum.p === 'I200'"},{"fold":["GAM","LM","Nonlin1","Nonlin2","Nonlin3","SO3"],"as":["Method","Percentage"]}],
  "encoding":{
   "x":{"field":"K","type":"quantitative","title":"K","scale":{"domain":[-0.45,31.45],"nice":false,"zero":false},"axis":{"values":[0,5,10,15,20,25,30],"labelExpr":"datum.value % 10 === 0 ? '' + datum.value : ''","tickOpacity":{"condition":{"test":"datum.value % 10 !== 0","value":0},"value":1},"gridWidth":{"condition":{"test":"datum.value % 10 !== 0","value":0.8},"value":1.6}}},
   "y":{"field":"Percentage","type":"quantitative","title":"Percentage","scale":{"domain":[-5,105],"nice":false,"zero":false},"axis":{"values":[0,12.5,25,37.5,50,62.5,75,87.5,100],"labelExpr":"datum.value % 25 === 0 ? '' + datum.value : ''","tickOpacity":{"condition":{"test":"datum.value % 25 !== 0","value":0},"value":1},"gridWidth":{"condition":{"test":"datum.value % 25 !== 0","value":0.8},"value":1.6}}},
   "color":{"field":"Method","type":"nominal","scale":{"domain":["GAM","LM","Nonlin1","Nonlin2","Nonlin3","SO3"],"range":["#999999","#E69F00","#56B4E9","#009E73","#0072B2","#F0E442"]},"legend":{"orient":"none","legendX":245,"legendY":569,"direction":"horizontal","title":"Method"}}
  },
  "layer":[{"mark":"line"},{"mark":"point"}]}
]},
{"title":"Inclusion (n = 400)","width":220,"height":209,"layer":[
 {"data":{"values":[{"K":20}]},"mark":"rule","encoding":{"x":{"field":"K","type":"quantitative","scale":{"domain":[-3.95,104.95],"nice":false,"zero":false}}}},
 {"data":{"name":"d"},"transform":[{"filter":"datum.p === 'I400'"},{"fold":["GAM","LM","Nonlin1","Nonlin2","Nonlin3","SO3"],"as":["Method","Percentage"]}],
  "encoding":{
   "x":{"field":"K","type":"quantitative","title":"K","scale":{"domain":[-3.95,104.95],"nice":false,"zero":false},"axis":{"values":[0,12.5,25,37.5,50,62.5,75,87.5,100],"labelExpr":"datum.value % 25 === 0 ? '' + datum.value : ''","tickOpacity":{"condition":{"test":"datum.value % 25 !== 0","value":0},"value":1},"gridWidth":{"condition":{"test":"datum.value % 25 !== 0","value":0.8},"value":1.6}}},
   "y":{"field":"Percentage","type":"quantitative","title":"Percentage","scale":{"domain":[-5,105],"nice":false,"zero":false},"axis":{"values":[0,12.5,25,37.5,50,62.5,75,87.5,100],"labelExpr":"datum.value % 25 === 0 ? '' + datum.value : ''","tickOpacity":{"condition":{"test":"datum.value % 25 !== 0","value":0},"value":1},"gridWidth":{"condition":{"test":"datum.value % 25 !== 0","value":0.8},"value":1.6}}},
   "color":{"field":"Method","type":"nominal","scale":{"domain":["GAM","LM","Nonlin1","Nonlin2","Nonlin3","SO3"],"range":["#999999","#E69F00","#56B4E9","#009E73","#0072B2","#F0E442"]},"legend":{"orient":"none","legendX":245,"legendY":569,"direction":"horizontal","title":"Method"}}
  },
  "layer":[{"mark":"line"},{"mark":"point"}]}
]}
],
"config": {
 "view": {"fill": "#EBEBEB", "stroke": null},
 "axis": {"domain": false, "tickCount": 50, "gridColor": "#FFFFFF", "tickColor": "#333333", "tickSize": 4, "tickWidth": 1.1, "labelColor": "#4D4D4D", "labelFont": "Liberation Sans", "labelFontSize": 13.2, "labelPadding": 3, "titleFont": "Liberation Sans", "titleFontSize": 16.5, "titleFontWeight": "normal", "titleColor": "#000000", "labelOverlap": false, "labelFlush": false},
 "axisX": {"titlePadding": 3},
 "axisY": {"titlePadding": 7},
 "title": {"anchor": "start", "frame": "group", "font": "Liberation Sans", "fontSize": 19.8, "fontWeight": "normal", "color": "#000000", "baseline": "alphabetic", "offset": 9.2},
 "legend": {"titleOrient": "left", "titleAnchor": "middle", "titleBaseline": "middle", "titleFont": "Liberation Sans", "titleFontSize": 15.5, "titleFontWeight": "normal", "titleColor": "#000000", "titlePadding": 9, "labelFont": "Liberation Sans", "labelFontSize": 12.4, "labelColor": "#000000", "labelOffset": 7.5, "columnPadding": 7.5, "symbolType": "M-1,0H1M0.32,0A0.32,0.32,0,1,1,-0.32,0A0.32,0.32,0,1,1,0.32,0Z", "symbolSize": 400, "symbolStrokeWidth": 1.6},
 "line": {"strokeWidth": 1.6},
 "point": {"filled": true, "size": 42, "opacity": 1},
 "rule": {"color": "#BEBEBE", "strokeWidth": 1.2}
}
}
